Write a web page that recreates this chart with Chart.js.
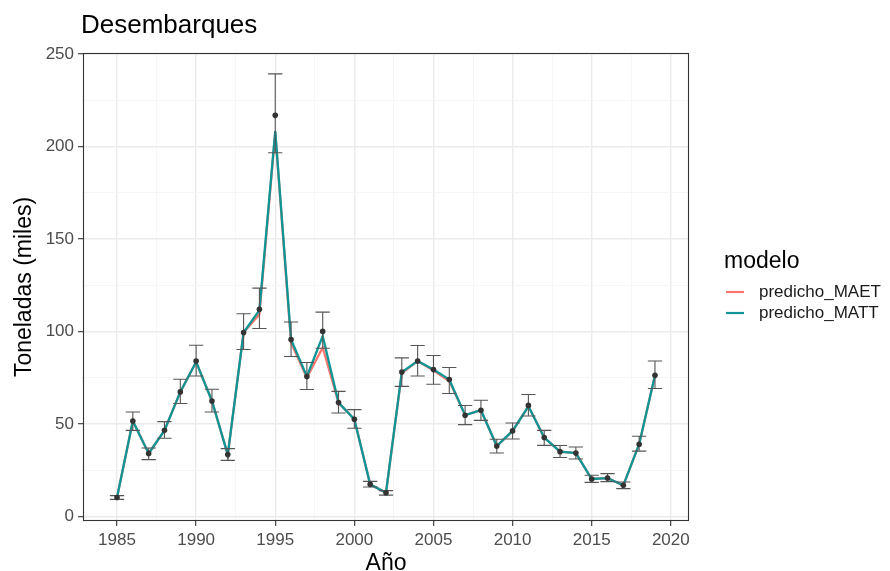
<!DOCTYPE html>
<html>
<head>
<meta charset="utf-8">
<script src="https://cdn.jsdelivr.net/npm/chart.js@4.4.1/dist/chart.umd.min.js"></script>
<style>
  body { margin: 0; background: #fff; }
  #wrap { width: 890px; height: 571px; }
</style>
</head>
<body>
<div id="wrap"><canvas id="chart" width="890" height="571"></canvas></div>
<script>
// values
const years = [1985, 1986, 1987, 1988, 1989, 1990, 1991, 1992, 1993, 1994, 1995, 1996, 1997, 1998, 1999, 2000, 2001, 2002,
  2003, 2004, 2005, 2006, 2007, 2008, 2009, 2010, 2011, 2012, 2013, 2014, 2015, 2016, 2017, 2018, 2019];
const observed = [10.2, 51.5, 34, 46.5, 67.3, 84, 62.4, 33.4, 99.4, 112, 216.8, 95.6, 75.6, 100, 61.5, 52.5, 17.3, 12.8,
  78, 84, 79.4, 74, 54.7, 57.4, 38, 46.2, 60, 42.6, 35, 34.2, 20.2, 20.7, 16.8, 39, 76.3];
const lowerBar = [9.2, 46.5, 30.7, 42.2, 61, 75.9, 56.4, 30.3, 90.2, 101.6, 196.6, 86.4, 68.6, 90.9, 55.9, 47.6, 15.9, 11.5,
  70.3, 75.9, 71.4, 66.4, 49.6, 51.9, 34.3, 41.8, 54.3, 38.4, 31.8, 31, 18.4, 18.8, 15, 35.3, 69.1];
const upperBar = [11.2, 56.4, 37, 51.2, 74.1, 92.5, 68.7, 36.6, 109.5, 123.4, 239.2, 105.1, 83.2, 110.4, 67.6, 57.7, 18.9, 13.9,
  85.7, 92.4, 87, 80.5, 59.9, 62.8, 41.7, 50.5, 65.9, 46.5, 38.3, 37.5, 22.2, 23.1, 18.6, 43.3, 84];
const predMATT = [10.2, 51.5, 34, 46.5, 67.3, 83.5, 62.4, 33.4, 99.4, 111.5, 208.3, 95.6, 75.6, 97.5, 61.5, 52.5, 17.3, 12.8,
  78, 84, 79.4, 74, 54.7, 57.4, 38, 46.2, 59.5, 42.6, 35, 34.2, 20.2, 20.7, 16.8, 39, 76.3];
const predMAET = [10.2, 51.5, 34, 46.5, 67.3, 83.5, 62.4, 33.4, 99.4, 109.3, 207.5, 93.8, 75, 91.3, 61.5, 52.5, 17.3, 12.8,
  77.5, 84, 78.8, 73.2, 54.7, 57.4, 38, 46.2, 59.5, 42.6, 35, 34.2, 20.2, 20.7, 16.8, 39, 76.3];

const xMajor = [1985, 1990, 1995, 2000, 2005, 2010, 2015, 2020];
const xMinor = [1987.5, 1992.5, 1997.5, 2002.5, 2007.5, 2012.5, 2017.5];
const yMajor = [0, 50, 100, 150, 200, 250];
const yMinor = [25, 75, 125, 175, 225];

const seriesNames = ['predicho_MAET', 'predicho_MATT'];
const seriesColors = ['#F8766D', '#0E9696'];

const FONT = "'Liberation Sans', Arial, sans-serif";
const capHalf = 0.45;

function toPoints(vals) {
  return years.map((x, i) => ({ x: x, y: vals[i] }));
}

function tickList(major, minor) {
  return major.concat(minor).sort((a, b) => a - b).map(v => ({ value: v }));
}

const decor = {
  id: 'decor',
  beforeDraw(chart) {
    const ctx = chart.ctx;
    ctx.save();
    ctx.fillStyle = '#fff';
    ctx.fillRect(0, 0, chart.width, chart.height);
    ctx.restore();
  },
  beforeDatasetDraw(chart, args) {
    if (args.index !== 0) return;
    // error bars, under the observed dots
    const ctx = chart.ctx;
    const xs = chart.scales.x, ys = chart.scales.y;
    ctx.save();
    ctx.strokeStyle = '#555555';
    ctx.lineWidth = 1.1;
    years.forEach((yr, i) => {
      const x = xs.getPixelForValue(yr);
      const x0 = xs.getPixelForValue(yr - capHalf);
      const x1 = xs.getPixelForValue(yr + capHalf);
      const yLo = ys.getPixelForValue(lowerBar[i]);
      const yHi = ys.getPixelForValue(upperBar[i]);
      ctx.beginPath();
      ctx.moveTo(x, yLo); ctx.lineTo(x, yHi);
      ctx.moveTo(x0, yLo); ctx.lineTo(x1, yLo);
      ctx.moveTo(x0, yHi); ctx.lineTo(x1, yHi);
      ctx.stroke();
    });
    ctx.restore();
  },
  afterDraw(chart) {
    const ctx = chart.ctx;
    const a = chart.chartArea;
    ctx.save();
    // panel border
    ctx.strokeStyle = '#333333';
    ctx.lineWidth = 1.1;
    ctx.strokeRect(a.left + 0.5, a.top + 0.5, a.right - a.left - 1, a.bottom - a.top - 1);

    // title
    ctx.fillStyle = '#000';
    ctx.textAlign = 'left';
    ctx.textBaseline = 'alphabetic';
    ctx.font = '26px ' + FONT;
    ctx.fillText('Desembarques', 81, 33);

    // axis titles
    ctx.font = '23px ' + FONT;
    ctx.textAlign = 'center';
    ctx.fillText('Año', (a.left + a.right) / 2, 570);
    ctx.save();
    ctx.translate(25, (a.top + a.bottom) / 2);
    ctx.rotate(-Math.PI / 2);
    ctx.textBaseline = 'middle';
    ctx.fillText('Toneladas (miles)', 0, 0);
    ctx.restore();

    // legend
    ctx.textAlign = 'left';
    ctx.font = '23px ' + FONT;
    ctx.fillText('modelo', 724, 268);
    ctx.font = '17px ' + FONT;
    ctx.textBaseline = 'middle';
    seriesNames.forEach((name, i) => {
      const y = 292 + i * 21;
      ctx.strokeStyle = seriesColors[i];
      ctx.lineWidth = 2.2;
      ctx.beginPath();
      ctx.moveTo(726, y); ctx.lineTo(744, y);
      ctx.stroke();
      ctx.fillStyle = '#1A1A1A';
      ctx.fillText(name, 759, y);
    });
    ctx.restore();
  }
};

function gridColor(major) {
  return c => major.includes(c.tick.value) ? '#EBEBEB' : '#F4F4F4';
}

new Chart(document.getElementById('chart'), {
  type: 'line',
  data: {
    datasets: [
      {
        label: 'observado',
        type: 'scatter',
        data: toPoints(observed),
        pointRadius: 2.8,
        pointHoverRadius: 2.8,
        backgroundColor: '#333333',
        borderWidth: 0,
        showLine: false
      },
      {
        label: seriesNames[1],
        data: toPoints(predMATT),
        borderColor: seriesColors[1],
        borderWidth: 2.3,
        pointRadius: 0,
        tension: 0
      },
      {
        label: seriesNames[0],
        data: toPoints(predMAET),
        borderColor: seriesColors[0],
        borderWidth: 2.3,
        pointRadius: 0,
        tension: 0
      }
    ]
  },
  options: {
    responsive: false,
    animation: false,
    layout: { padding: { left: 0, top: 53, right: 201, bottom: 0 } },
    plugins: { legend: { display: false }, title: { display: false }, tooltip: { enabled: false } },
    scales: {
      x: {
        type: 'linear',
        min: 1982.85,
        max: 2021.15,
        afterBuildTicks: s => { s.ticks = tickList(xMajor, xMinor); },
        afterFit: s => { s.height = 50; },
        border: { display: false },
        grid: {
          color: gridColor(xMajor),
          lineWidth: c => xMajor.includes(c.tick.value) ? 1.4 : 0.8,
          tickColor: c => xMajor.includes(c.tick.value) ? '#333333' : 'rgba(0,0,0,0)',
          tickLength: 5,
          tickWidth: 1.1
        },
        ticks: {
          autoSkip: false,
          maxRotation: 0,
          padding: 4,
          color: '#4D4D4D',
          font: { family: FONT, size: 17 },
          callback: v => xMajor.includes(v) ? String(v) : ''
        }
      },
      y: {
        type: 'linear',
        min: -2.5,
        max: 250.5,
        afterBuildTicks: s => { s.ticks = tickList(yMajor, yMinor); },
        afterFit: s => { s.width = 83; },
        border: { display: false },
        grid: {
          color: gridColor(yMajor),
          lineWidth: c => yMajor.includes(c.tick.value) ? 1.4 : 0.8,
          tickColor: c => yMajor.includes(c.tick.value) ? '#333333' : 'rgba(0,0,0,0)',
          tickLength: 5,
          tickWidth: 1.1
        },
        ticks: {
          padding: 4,
          color: '#4D4D4D',
          font: { family: FONT, size: 17 },
          callback: v => yMajor.includes(v) ? String(v) : ''
        }
      }
    }
  },
  plugins: [decor]
});
</script>
</body>
</html>
